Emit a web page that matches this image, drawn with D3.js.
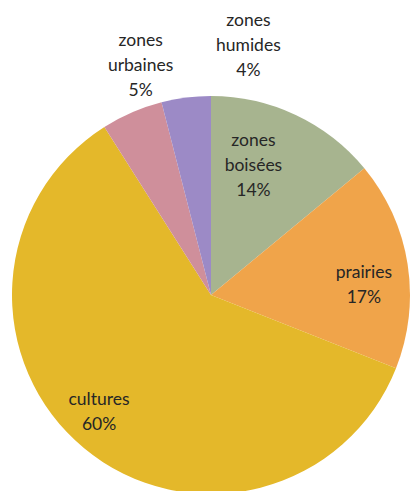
<!DOCTYPE html>
<html>
<head>
<meta charset="utf-8">
<script src="https://cdn.jsdelivr.net/npm/d3@7"></script>
<style>
  html, body { margin: 0; padding: 0; background: #fff; }
  #mychart { width: 411px; height: 491px; overflow: hidden; }
</style>
</head>
<body>
<div id="mychart"></div>
<script>
// land use pie chart

const chartTarget = "#mychart"

// data
const categories = ["zones\nboisées", "prairies", "cultures", "zones\nurbaines", "zones\nhumides"]
const shares = [14, 17, 60, 5, 4]
const colors = ["#a7b48f", "#f0a44a", "#e4b82a", "#cf8f9b", "#9c8ac6"]

// label placement, polar: angle in degrees from top clockwise, distance as share of radius
const labelAngle = [18, 86, 224, 343, 8.5]
const labelDist = [0.69, 0.77, 0.81, 1.21, 1.27]

const chartWidth = 411
const chartHeight = 491
const cx = 211
const cy = 295
const radius = 199
const labelSize = "17.5px"
const lineHeight = 25

const svg = d3.select(chartTarget)
  .append("svg")
  .attr("width", chartWidth)
  .attr("height", chartHeight)
  .attr("viewBox", [0, 0, chartWidth, chartHeight])

const pie = d3.pie().sort(null).value(d => d)
const arcs = pie(shares)
const arc = d3.arc().innerRadius(0).outerRadius(radius)

const g = svg.append("g").attr("transform", `translate(${cx},${cy})`)

g.selectAll("path")
  .data(arcs)
  .join("path")
  .attr("d", arc)
  .attr("fill", (d, i) => colors[i])

// labels
const labels = g.selectAll("text")
  .data(arcs)
  .join("text")
  .attr("font-family", "Lato, 'Open Sans', sans-serif")
  .attr("font-size", labelSize)
  .attr("fill", "#262626")
  .attr("text-anchor", "middle")
  .each(function (d, i) {
    const a = labelAngle[i] * Math.PI / 180
    const r = labelDist[i] * radius
    const x = r * Math.sin(a)
    const y = -r * Math.cos(a)
    const lines = categories[i].split("\n").concat([shares[i] + "%"])
    const y0 = y - (lines.length - 1) * lineHeight / 2
    d3.select(this).selectAll("tspan")
      .data(lines)
      .join("tspan")
      .attr("x", x)
      .attr("y", (t, k) => y0 + k * lineHeight)
      .attr("dy", "0.35em")
      .text(t => t)
  })
</script>
</body>
</html>
